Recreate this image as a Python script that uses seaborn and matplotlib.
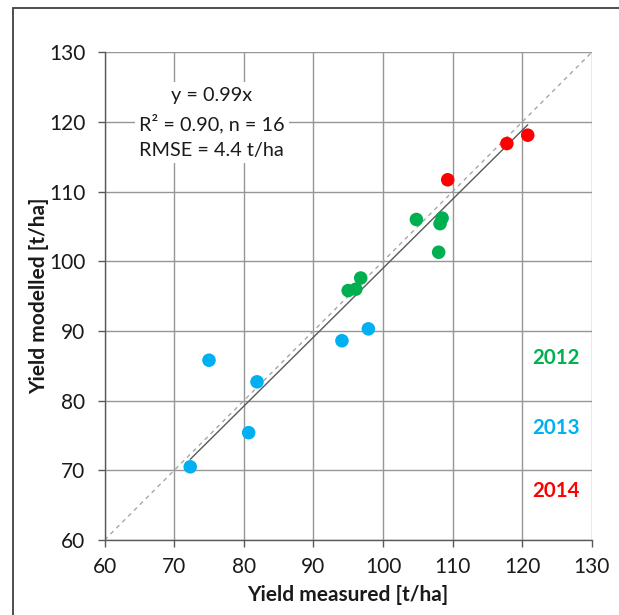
import numpy as np
import pandas as pd
import matplotlib
matplotlib.use("Agg")
import matplotlib.pyplot as plt
import seaborn as sns
from matplotlib.patches import Rectangle

# ---- data ----
x_2012 = [95.0, 96.1, 96.8, 104.8, 108.5, 108.2, 108.0]
y_2012 = [95.8, 96.0, 97.6, 106.0, 106.2, 105.4, 101.3]
x_2013 = [72.3, 75.0, 81.9, 80.7, 94.1, 97.9]
y_2013 = [70.5, 85.8, 82.7, 75.4, 88.6, 90.3]
x_2014 = [109.3, 117.8, 120.8]
y_2014 = [111.7, 116.9, 118.1]
years = ["2012", "2013", "2014"]
year_colors = ["#00B050", "#00B0F0", "#FF0000"]
slope = 0.99
ticks = [60, 70, 80, 90, 100, 110, 120, 130]
stats_text = "y = 0.99x\nR² = 0.90, n = 16\nRMSE = 4.4 t/ha"

df = pd.DataFrame({
    "measured": x_2012 + x_2013 + x_2014,
    "modelled": y_2012 + y_2013 + y_2014,
    "year": ["2012"] * len(x_2012) + ["2013"] * len(x_2013) + ["2014"] * len(x_2014),
})

sns.set_theme(style="white")
plt.rcParams["font.family"] = ["Lato", "DejaVu Sans"]

fig = plt.figure(figsize=(6.19, 6.15), dpi=100)
ax = fig.add_axes([0.169, 0.122, 0.787, 0.793])

# grid
ax.set_xlim(60, 130)
ax.set_ylim(60, 130)
ax.set_xticks(ticks)
ax.set_yticks(ticks)
ax.grid(True, color="#969696", linewidth=1.0, zorder=0)
ax.set_axisbelow(True)

# 1:1 line
ax.plot([60, 130], [60, 130], ls=(0, (3, 3)), color="#a6a6a6", lw=1.0, zorder=1)

# fit line over data range
xmin, xmax = df["measured"].min(), df["measured"].max()
ax.plot([xmin, xmax], [slope * xmin, slope * xmax], color="#595959", lw=1.0, zorder=2)

sns.scatterplot(data=df, x="measured", y="modelled", hue="year",
                palette=dict(zip(years, year_colors)), s=95, linewidth=0,
                legend=False, ax=ax, zorder=3)

# stats box
ax.text(75.4, 119.9, stats_text, ha="center", va="center", fontsize=14.3,
        linespacing=1.6, color="#1a1a1a",
        bbox=dict(facecolor="white", edgecolor="none", pad=3), zorder=4)

# year labels
for yr, col, yy in zip(years, year_colors, [86.1, 76.0, 67.0]):
    ax.text(124.9, yy, yr, color=col, ha="center", va="center",
            fontsize=14.8, fontweight="bold", zorder=4)

ax.set_xlabel("Yield measured [t/ha]", fontsize=15, fontweight="bold", color="#1a1a1a", labelpad=6)
ax.set_ylabel("Yield modelled [t/ha]", fontsize=15, fontweight="bold", color="#1a1a1a", labelpad=0)
ax.tick_params(axis="both", which="major", labelsize=15, colors="#1a1a1a",
               direction="out", length=5, width=1, bottom=True, left=True)
ax.tick_params(axis="both", color="#595959")
ax.tick_params(axis="x", pad=7)
ax.tick_params(axis="y", pad=9)

for side in ["top", "right"]:
    ax.spines[side].set_visible(False)
for side in ["left", "bottom"]:
    ax.spines[side].set_color("#595959")
    ax.spines[side].set_linewidth(1.0)

# outer frame
fig.patches.append(Rectangle((13 / 619, -0.05), 1.2, (615 - 8) / 615 + 0.05,
                             transform=fig.transFigure, fill=False,
                             edgecolor="#404040", linewidth=1.3))

fig.savefig("out.png", dpi=100)
